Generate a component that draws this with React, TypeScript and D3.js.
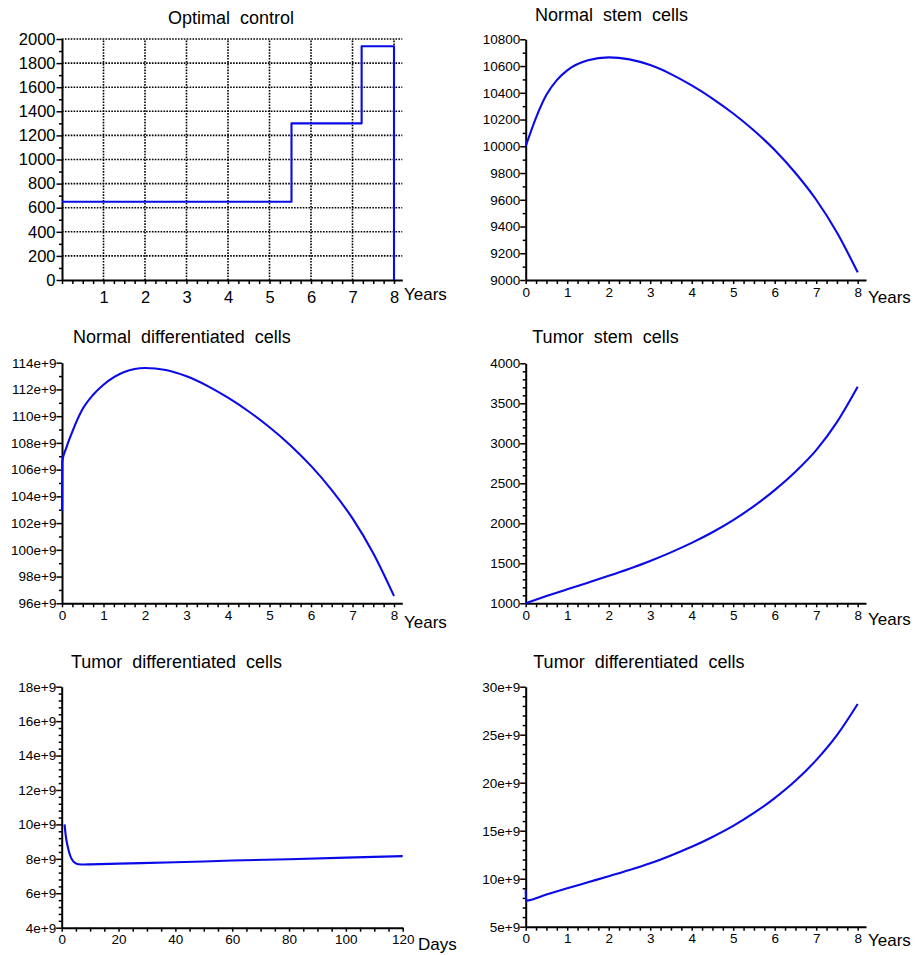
import React, { useEffect, useRef } from "react";
import * as d3 from "d3";

// ---- Optimal control (dose schedule, step function) ----
const controlTimes = [0, 5.53, 7.22, 8];
const controlDose = [650, 1300, 1940, 0];

// ---- Normal stem cells ----
const nscYears = [0, 0.25, 0.5, 0.75, 1, 1.5, 2, 2.5, 3, 3.5, 4, 4.5, 5, 5.5, 6, 6.5, 7, 7.5, 8];
const nscValues = [10000, 10215, 10385, 10495, 10568, 10643, 10665, 10650, 10607, 10540, 10455, 10357, 10245, 10118, 9972, 9800, 9600, 9355, 9057];

// ---- Normal differentiated cells (units of 1e9) ----
const ndcYears = [0, 0.005, 0.1, 0.25, 0.5, 0.75, 1, 1.5, 2, 2.5, 3, 3.5, 4, 4.5, 5, 5.5, 6, 6.5, 7, 7.5, 8];
const ndcValues = [102.9, 106.6, 107.6, 108.85, 110.55, 111.6, 112.35, 113.3, 113.6, 113.45, 112.98, 112.27, 111.38, 110.35, 109.17, 107.83, 106.28, 104.47, 102.35, 99.75, 96.55];

// ---- Tumor stem cells ----
const tscYears = [0, 0.5, 1, 1.5, 2, 2.5, 3, 3.5, 4, 4.5, 5, 5.5, 6, 6.5, 7, 7.5, 8];
const tscValues = [1000, 1090, 1175, 1258, 1343, 1433, 1530, 1637, 1755, 1888, 2040, 2215, 2415, 2645, 2915, 3265, 3708];

// ---- Tumor differentiated cells over the first 120 days (units of 1e9) ----
const tdcDays = [1, 1.5, 2, 2.5, 3, 4, 5, 6, 8, 10, 20, 40, 60, 80, 100, 120];
const tdcDayValues = [10.0, 9.25, 8.8, 8.45, 8.18, 7.87, 7.74, 7.69, 7.67, 7.68, 7.72, 7.8, 7.9, 7.98, 8.07, 8.16];

// ---- Tumor differentiated cells over 8 years (units of 1e9) ----
const tdcYears = [0, 0.005, 0.5, 1, 1.5, 2, 2.5, 3, 3.5, 4, 4.5, 5, 5.5, 6, 6.5, 7, 7.5, 8];
const tdcYearValues = [8.8, 7.72, 8.36, 9.0, 9.63, 10.26, 10.9, 11.6, 12.42, 13.32, 14.35, 15.5, 16.85, 18.4, 20.2, 22.35, 24.95, 28.2];

// ---- Axis ticks ----
const yearTicks = [0, 1, 2, 3, 4, 5, 6, 7, 8];
const controlYearTicks = [1, 2, 3, 4, 5, 6, 7, 8];
const dayTicks = [0, 20, 40, 60, 80, 100, 120];
const controlDoseTicks = [0, 200, 400, 600, 800, 1000, 1200, 1400, 1600, 1800, 2000];
const nscTicks = [9000, 9200, 9400, 9600, 9800, 10000, 10200, 10400, 10600, 10800];
const ndcTicks = [96, 98, 100, 102, 104, 106, 108, 110, 112, 114];
const tscTicks = [1000, 1500, 2000, 2500, 3000, 3500, 4000];
const tdcDayTicks = [4, 6, 8, 10, 12, 14, 16, 18];
const tdcYearTicks = [5, 10, 15, 20, 25, 30];

const FONT = "'Liberation Sans', Arial, Helvetica, sans-serif";
const BLUE = "#0a0ae8";

type PanelCfg = {
  title: string;
  titleX: number;
  titleY: number;
  x0: number;
  x1: number;
  xMax: number;
  yTop: number;
  yBottom: number;
  yDomain: [number, number];
  xTicks: number[];
  xMinorStep: number;
  yTicks: number[];
  yMinorStep: number;
  yFormat: (v: number) => string;
  unit: string;
  unitX: number;
  unitY: number;
  tickFont: number;
  xPad: number;
  yPad: number;
  grid?: boolean;
  xs: number[];
  ys: number[];
  step?: boolean;
};

function minorTicks(domain: [number, number], step: number, majors: number[]) {
  const out: number[] = [];
  const n = Math.round((domain[1] - domain[0]) / step);
  for (let i = 0; i <= n; i++) {
    const v = +(domain[0] + i * step).toFixed(6);
    if (!majors.some((m) => Math.abs(m - v) < 1e-6)) out.push(v);
  }
  return out;
}

function drawPanel(svg: d3.Selection<SVGSVGElement, unknown, null, undefined>, c: PanelCfg) {
  const g = svg.append("g");
  const x = d3.scaleLinear().domain([0, c.xMax]).range([c.x0, c.x1]);
  const y = d3.scaleLinear().domain(c.yDomain).range([c.yBottom, c.yTop]);

  // dotted grid
  if (c.grid) {
    const grid = g.append("g").attr("stroke", "#000").attr("stroke-width", 1.6).attr("stroke-dasharray", "1.6,1.3");
    c.xTicks.forEach((t) => {
      grid.append("line").attr("x1", x(t)).attr("x2", x(t)).attr("y1", y(c.yDomain[0])).attr("y2", y(c.yDomain[1]));
    });
    c.yTicks.forEach((t) => {
      if (t === c.yDomain[0]) return;
      grid.append("line").attr("x1", x(0)).attr("x2", x(c.xMax)).attr("y1", y(t)).attr("y2", y(t));
    });
  }

  const xMinor = minorTicks([0, Math.floor(c.xMax / c.xMinorStep) * c.xMinorStep], c.xMinorStep, c.xTicks);
  const yMinor = minorTicks(c.yDomain, c.yMinorStep, c.yTicks);

  // x axis
  const xg = g.append("g").attr("transform", `translate(0,${c.yBottom})`);
  xg.call(
    d3.axisBottom(x).tickValues(c.xTicks).tickSize(4).tickSizeOuter(0).tickPadding(c.xPad).tickFormat((d) => String(d))
  );
  xg.append("g").call(d3.axisBottom(x).tickValues(xMinor).tickSize(4).tickSizeOuter(0).tickFormat(() => ""))
    .select(".domain").remove();

  // y axis
  const yg = g.append("g").attr("transform", `translate(${c.x0},0)`);
  yg.call(
    d3.axisLeft(y).tickValues(c.yTicks).tickSize(5.5).tickSizeOuter(0).tickPadding(c.yPad).tickFormat((d) => c.yFormat(d as number))
  );
  yg.append("g").call(d3.axisLeft(y).tickValues(yMinor).tickSize(3).tickSizeOuter(0).tickFormat(() => ""))
    .select(".domain").remove();

  [xg, yg].forEach((ax) => {
    ax.attr("font-family", FONT).attr("font-size", c.tickFont);
    ax.selectAll(".domain").attr("stroke", "#000").attr("stroke-width", 2);
    ax.selectAll(".tick line").attr("stroke", "#000").attr("stroke-width", 1.5);
    ax.selectAll(".tick text").attr("fill", "#000");
  });

  // curve, drawn over the axes
  const pts = c.xs.map((t, i) => [t, c.ys[i]] as [number, number]);
  const line = d3
    .line<[number, number]>()
    .x((d) => x(d[0]))
    .y((d) => y(d[1]))
    .curve(c.step ? d3.curveStepAfter : d3.curveMonotoneX);
  g.append("path")
    .datum(pts)
    .attr("d", line)
    .attr("fill", "none")
    .attr("stroke", BLUE)
    .attr("stroke-width", 2.1)
    .attr("stroke-linejoin", "round");

  // title and unit label
  g.append("text")
    .attr("x", c.titleX)
    .attr("y", c.titleY)
    .attr("font-family", FONT)
    .attr("font-size", 18)
    .attr("fill", "#000")
    .style("white-space", "pre")
    .text(c.title);
  g.append("text")
    .attr("x", c.unitX)
    .attr("y", c.unitY)
    .attr("font-family", FONT)
    .attr("font-size", 17)
    .attr("fill", "#000")
    .text(c.unit);
}

const eFmt = (v: number) => `${v}e+9`;
const plainFmt = (v: number) => String(v);

export default function App() {
  const ref = useRef<SVGSVGElement | null>(null);

  useEffect(() => {
    const svg = d3.select(ref.current as SVGSVGElement);
    svg.selectAll("*").remove();

    const leftX0 = 62;
    const rightX0 = 525.7;
    const yrPx = 41.5;
    const yrMax = 8.2;

    const panels: PanelCfg[] = [
      {
        title: "Optimal  control", titleX: 168, titleY: 24,
        x0: leftX0, x1: leftX0 + yrMax * yrPx, xMax: yrMax, yTop: 39, yBottom: 280, yDomain: [0, 2000],
        xTicks: controlYearTicks, xMinorStep: 0.25, yTicks: controlDoseTicks, yMinorStep: 100, yFormat: plainFmt,
        unit: "Years", unitX: 404, unitY: 300, tickFont: 16.5, xPad: 7, yPad: 1, grid: true,
        xs: controlTimes, ys: controlDose, step: true,
      },
      {
        title: "Normal  stem  cells", titleX: 535, titleY: 20.7,
        x0: rightX0, x1: rightX0 + yrMax * yrPx, xMax: yrMax, yTop: 39.3, yBottom: 280, yDomain: [9000, 10800],
        xTicks: yearTicks, xMinorStep: 0.25, yTicks: nscTicks, yMinorStep: 100, yFormat: plainFmt,
        unit: "Years", unitX: 868, unitY: 303, tickFont: 13.5, xPad: 3.2, yPad: 0,
        xs: nscYears, ys: nscValues,
      },
      {
        title: "Normal  differentiated  cells", titleX: 73, titleY: 342.7,
        x0: leftX0, x1: leftX0 + yrMax * yrPx, xMax: yrMax, yTop: 362.7, yBottom: 603.3, yDomain: [96, 114],
        xTicks: yearTicks, xMinorStep: 0.25, yTicks: ndcTicks, yMinorStep: 1, yFormat: eFmt,
        unit: "Years", unitX: 404, unitY: 628, tickFont: 13.5, xPad: 3.2, yPad: 0,
        xs: ndcYears, ys: ndcValues,
      },
      {
        title: "Tumor  stem  cells", titleX: 532.3, titleY: 342.7,
        x0: rightX0, x1: rightX0 + yrMax * yrPx, xMax: yrMax, yTop: 363.3, yBottom: 603.3, yDomain: [1000, 4000],
        xTicks: yearTicks, xMinorStep: 0.25, yTicks: tscTicks, yMinorStep: 100, yFormat: plainFmt,
        unit: "Years", unitX: 868, unitY: 625, tickFont: 13.5, xPad: 3.2, yPad: 0,
        xs: tscYears, ys: tscValues,
      },
      {
        title: "Tumor  differentiated  cells", titleX: 71, titleY: 667.7,
        x0: 61.7, x1: 402.7, xMax: 120, yTop: 686.7, yBottom: 927.7, yDomain: [4, 18],
        xTicks: dayTicks, xMinorStep: 5, yTicks: tdcDayTicks, yMinorStep: 0.4, yFormat: eFmt,
        unit: "Days", unitX: 418, unitY: 950, tickFont: 13.5, xPad: 3.2, yPad: 0,
        xs: tdcDays, ys: tdcDayValues,
      },
      {
        title: "Tumor  differentiated  cells", titleX: 533.3, titleY: 667.7,
        x0: rightX0, x1: rightX0 + yrMax * yrPx, xMax: yrMax, yTop: 686.7, yBottom: 926.7, yDomain: [5, 30],
        xTicks: yearTicks, xMinorStep: 0.25, yTicks: tdcYearTicks, yMinorStep: 1, yFormat: eFmt,
        unit: "Years", unitX: 868, unitY: 946, tickFont: 13.5, xPad: 3.2, yPad: 0,
        xs: tdcYears, ys: tdcYearValues,
      },
    ];

    panels.forEach((p) => drawPanel(svg, p));
  }, []);

  return (
    <svg
      ref={ref}
      width={916}
      height={955}
      style={{ position: "absolute", left: 0, top: 0, background: "#fff" }}
    />
  );
}
